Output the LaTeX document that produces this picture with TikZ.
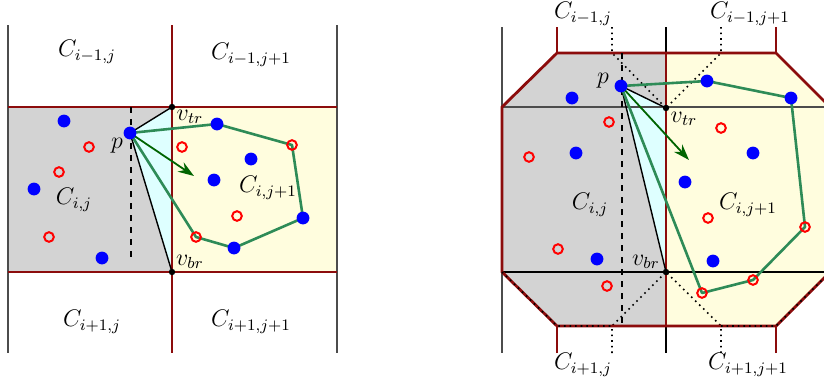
\documentclass[tikz,border=0pt]{standalone}
\usepackage{amsmath}
\usepackage{xcolor}
\usetikzlibrary{arrows.meta}

\definecolor{cellred}{RGB}{140,12,12}
\definecolor{hullgreen}{RGB}{46,139,87}
\definecolor{dirgreen}{RGB}{0,100,0}
\definecolor{cellgray}{RGB}{211,211,211}
\definecolor{cellyellow}{RGB}{255,253,222}
\definecolor{conecyan}{RGB}{222,255,255}

\begin{document}
\begin{tikzpicture}[
  x=0.5pt, y=-0.5pt,
  font=\large,
  border/.style={cellred, line width=1.4pt},
  grid/.style={black!70, line width=0.55pt},
  sight/.style={black, line width=0.7pt},
  nbr/.style={black, dotted, line width=0.8pt},
  hull/.style={hullgreen, line width=1.3pt, line join=round},
  dir/.style={-{Stealth[length=8pt,width=5.5pt]}, dirgreen, line width=0.9pt},
  sdot/.style={circle, fill=blue, inner sep=0pt, minimum size=6.4pt},
  hdot/.style={circle, draw=red, line width=1pt, inner sep=0pt, minimum size=4.8pt},
  vdot/.style={circle, fill=black, inner sep=0pt, minimum size=3.2pt}
]
\useasboundingbox (0,0) rectangle (824,387);

% left: square cells
\coordinate (pL) at (130,133);
\coordinate (vtrL) at (172,107);
\coordinate (vbrL) at (172,272);
\coordinate (dL) at (194,176);
\coordinate (hL1) at (217,124);
\coordinate (hL2) at (292,145);
\coordinate (hL3) at (303,218);
\coordinate (hL4) at (234,248);
\coordinate (hL5) at (196,237);

\fill[cellgray] (8,107) rectangle (vbrL);
\fill[cellyellow] (vtrL) rectangle (337,272);
\fill[conecyan] (pL) -- (vtrL) -- (vbrL) -- cycle;
\draw[grid] (8,25) -- (8,353);
\draw[grid] (337,25) -- (337,353);
\draw[border] (172,25) -- (172,353);
\draw[border] (8,107) -- (337,107);
\draw[border] (8,272) -- (337,272);
\draw[dashed, line width=0.7pt] (131,107) -- (131,262);
\draw[sight] (vtrL) -- (pL) -- (vbrL);
\draw[hull] (pL) -- (hL1) -- (hL2) -- (hL3) -- (hL4) -- (hL5) -- cycle;
\draw[dir] (pL) -- (dL);

\foreach \x/\y [count=\k] in {64/121, 34/189, 102/258, 251/159, 214/180}
  \node[sdot] (bL\k) at (\x,\y) {};
\foreach \x/\y [count=\k] in {89/147, 59/172, 49/237, 182/147, 237/216}
  \node[hdot] (rL\k) at (\x,\y) {};
\node[sdot] at (hL1) {};
\node[hdot] at (hL2) {};
\node[sdot] at (hL3) {};
\node[sdot] at (hL4) {};
\node[hdot] at (hL5) {};
\node[sdot] (ptL) at (pL) {};
\node[vdot] (ctrL) at (vtrL) {};
\node[vdot] (cbrL) at (vbrL) {};

\node (nwL) at (87,52) {$C_{i-1,j}$};
\node (nL) at (251,55) {$C_{i-1,j+1}$};
\node (wL) at (74,200) {$C_{i,j}$};
\node (eL) at (268,188) {$C_{i,j+1}$};
\node (swL) at (92,322) {$C_{i+1,j}$};
\node (sL) at (251,322) {$C_{i+1,j+1}$};
\node (plabL) at (117,146) {$p$};
\node (trlabL) at (190,117) {$v_{tr}$};
\node (brlabL) at (190,262) {$v_{br}$};

% right: octagonal cells
\coordinate (pR) at (621,86);
\coordinate (vtrR) at (666,108);
\coordinate (vbrR) at (666,272);
\coordinate (dR) at (689,160);
\coordinate (hR1) at (707,81);
\coordinate (hR2) at (791,98);
\coordinate (hR3) at (805,227);
\coordinate (hR4) at (753,280);
\coordinate (hR5) at (702,293);
\coordinate (o1) at (557,53);
\coordinate (o2) at (776,53);
\coordinate (o3) at (830,107);
\coordinate (o4) at (830,272);
\coordinate (o5) at (776,326);
\coordinate (o6) at (557,326);
\coordinate (o7) at (502,272);
\coordinate (o8) at (502,107);
\coordinate (mt) at (666,53);
\coordinate (mb) at (666,326);
\coordinate (qtl) at (612,53);
\coordinate (qtr) at (721,53);
\coordinate (qbl) at (612,326);
\coordinate (qbr) at (721,326);

\fill[cellgray] (mt) -- (o1) -- (o8) -- (o7) -- (o6) -- (mb) -- cycle;
\fill[cellyellow] (mt) -- (o2) -- (o3) -- (o4) -- (o5) -- (mb) -- cycle;
\fill[conecyan] (pR) -- (vtrR) -- (vbrR) -- cycle;
\draw[grid] (502,27) -- (502,353);
\draw[black, line width=0.55pt] (666,27) -- (666,353);
\draw[grid] (o8) -- (830,107);
\draw[black, line width=0.55pt] (o7) -- (830,272);
\draw[nbr] (612,27) -- (qtl) -- (vtrR);
\draw[nbr] (721,27) -- (qtr) -- (vtrR);
\draw[nbr] (612,353) -- (qbl) -- (vbrR);
\draw[nbr] (721,353) -- (qbr) -- (vbrR);
\draw[border, line join=miter] (o1) -- (o2) -- (o3) -- (o4) -- (o5) -- (o6) -- (o7) -- (o8) -- cycle;
\draw[border] (mt) -- (mb);
\draw[border] (557,27) -- (o1);
\draw[border] (776,27) -- (o2);
\draw[border] (557,353) -- (o6);
\draw[border] (776,353) -- (o5);
\draw[nbr] (o7) -- (o6) -- (qbl);
\draw[nbr] (qbr) -- (o5) -- (o4);
\draw[dashed, line width=0.7pt] (622,53) -- (622,326);
\draw[sight] (vtrR) -- (pR) -- (vbrR);
\draw[hull] (pR) -- (hR1) -- (hR2) -- (hR3) -- (hR4) -- (hR5) -- cycle;
\draw[dir] (pR) -- (dR);

\foreach \x/\y [count=\k] in {572/98, 576/153, 753/153, 685/182, 597/259, 713/261}
  \node[sdot] (bR\k) at (\x,\y) {};
\foreach \x/\y [count=\k] in {609/122, 529/157, 721/128, 708/218, 558/249, 607/286}
  \node[hdot] (rR\k) at (\x,\y) {};
\node[sdot] at (hR1) {};
\node[sdot] at (hR2) {};
\node[hdot] at (hR3) {};
\node[hdot] at (hR4) {};
\node[hdot] at (hR5) {};
\node[sdot] (ptR) at (pR) {};
\node[vdot] (ctrR) at (vtrR) {};
\node[vdot] (cbrR) at (vbrR) {};

\node (nwR) at (583,14) {$C_{i-1,j}$};
\node (nR) at (750,14) {$C_{i-1,j+1}$};
\node (wR) at (590,205) {$C_{i,j}$};
\node (eR) at (748,205) {$C_{i,j+1}$};
\node (swR) at (583,365) {$C_{i+1,j}$};
\node (sR) at (748,365) {$C_{i+1,j+1}$};
\node (plabR) at (603,81) {$p$};
\node (trlabR) at (684,119) {$v_{tr}$};
\node (brlabR) at (646,262) {$v_{br}$};
\end{tikzpicture}
\end{document}
